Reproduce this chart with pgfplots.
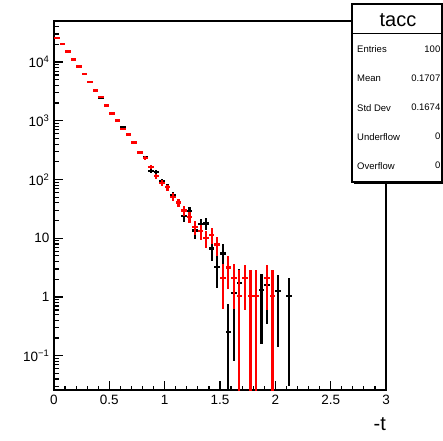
\documentclass[border=0pt]{standalone}
\usepackage{fontspec}
\setmainfont{Liberation Sans}
\usepackage{pgfplots}
\pgfplotsset{compat=1.18}
\usepackage{pgfplotstable}

\pgfplotstableread{
x y ep em
0.025 25700 160 160
0.075 20090 142 142
0.125 15100 123 123
0.175 11040 105 105
0.225 8380 92 92
0.275 6200 79 79
0.325 4530 67 67
0.375 3275 57 57
0.425 2470 50 50
0.475 1770 42 42
0.525 1331 36 36
0.575 1012 32 32
0.625 787 28 28
0.675 585 24 24
0.725 428 21 21
0.775 292 17 17
0.825 238 15.4 15.4
0.875 141 11.9 11.9
0.925 135 11.6 11.6
0.975 93.9 9.7 9.7
1.025 74.3 8.6 8.6
1.075 53.2 7.3 7.3
1.125 40.8 6.4 6.4
1.175 23.6 4.9 4.9
1.225 29.0 5.4 5.4
1.275 13.5 3.7 3.7
1.325 17.4 4.2 4.2
1.375 17.8 4.2 4.2
1.425 6.68 2.58 2.58
1.475 3.24 1.80 1.80
1.525 5.49 2.34 2.34
1.575 0.254 0.504 0.253
1.625 1.15 1.07 1.07
1.675 1.71 1.31 1.31
1.875 1.30 1.14 1.14
1.925 1.60 1.26 1.26
2.025 1.26 1.12 1.12
2.125 1.05 1.02 1.02
}\blackdata

\pgfplotstableread{
x y ep em
0.025 25700 164 164
0.075 20090 145 145
0.125 15100 125 125
0.175 11040 107 107
0.225 8380 93 93
0.275 6200 80 80
0.325 4530 69 69
0.375 3275 58 58
0.425 2520 51 51
0.475 1820 44 44
0.525 1331 37 37
0.575 1012 32 32
0.625 728 27.5 27.5
0.675 585 24.7 24.7
0.725 428 21.1 21.1
0.775 289 17.3 17.3
0.825 234 15.6 15.6
0.875 161 12.9 12.9
0.925 114 10.9 10.9
0.975 87.9 9.6 9.6
1.025 73.4 8.7 8.7
1.075 50.8 7.3 7.3
1.125 40.5 6.5 6.5
1.175 29.6 5.5 5.5
1.225 22.9 4.9 4.9
1.275 15.3 4.0 4.0
1.325 13.1 3.7 3.7
1.375 10.1 3.2 3.2
1.425 11.3 3.4 3.4
1.475 7.81 2.85 2.85
1.525 2.10 1.48 1.48
1.575 3.17 1.82 1.82
1.625 2.10 1.48 1.48
1.675 1.05 1.8 1.049
1.725 2.08 1.47 1.47
1.775 1.05 1.8 1.049
1.825 1.05 1.8 1.049
1.925 2.08 1.47 1.47
1.975 1.05 1.8 1.049
}\reddata

\begin{document}
\begin{tikzpicture}[x=1pt,y=1pt]
\begin{axis}[
  at={(54pt,50pt)}, anchor=south west,
  scale only axis, width=332pt, height=369pt,
  xmin=0, xmax=3, ymode=log, ymin=0.026, ymax=50000,
  axis line style={line width=1.6pt},
  tick align=inside, tick pos=left,
  major tick length=9pt, minor tick length=4.5pt,
  every tick/.style={line width=1.2pt, black},
  xtick={0,0.5,1,1.5,2,2.5,3},
  xticklabels={0,0.5,1,1.5,2,2.5,3},
  minor x tick num=4,
  ytick={0.1,1,10,100,1000,10000},
  yticklabels={10\textsuperscript{−1},1,10,10\textsuperscript{2},10\textsuperscript{3},10\textsuperscript{4}},
  minor ytick={0.03,0.04,0.05,0.06,0.07,0.08,0.09,0.2,0.3,0.4,0.5,0.6,0.7,0.8,0.9,2,3,4,5,6,7,8,9,20,30,40,50,60,70,80,90,200,300,400,500,600,700,800,900,2000,3000,4000,5000,6000,7000,8000,9000,20000,30000,40000},
  xticklabel style={font=\fontsize{13.5}{14}\selectfont, yshift=-2pt},
  yticklabel style={font=\fontsize{13.5}{14}\selectfont, xshift=-1pt},
  every error bar/.append style={line width=2.2pt},
]
\addplot[black, line width=2.2pt, draw=none, mark=none,
  error bars/.cd, x dir=both, x fixed=0.025, y dir=both, y explicit,
  error mark=none, error bar style={draw=black, line width=2.2pt, solid}]
  table[x=x, y=y, y error plus=ep, y error minus=em]{\blackdata};
\addplot[red, line width=2.2pt, draw=none, mark=none,
  error bars/.cd, x dir=both, x fixed=0.025, y dir=both, y explicit,
  error mark=none, error bar style={draw=red, line width=2.2pt, solid}]
  table[x=x, y=y, y error plus=ep, y error minus=em]{\reddata};
\end{axis}
% x axis label
\node[anchor=base east, inner sep=0pt, font=\fontsize{20}{20}\selectfont] at (386pt,10pt) {-t};
% stats box
\fill[black] (354pt,256pt) rectangle (443pt,434pt);
\draw[line width=1.2pt, fill=white] (352pt,258pt) rectangle (442pt,436pt);
\draw[line width=1.2pt] (352pt,406.7pt) -- (442pt,406.7pt);
\node[font=\fontsize{20}{20}\selectfont, inner sep=0pt] at (398pt,420pt) {tacc};
\begin{scope}[every node/.style={font=\fontsize{9.5}{10}\selectfont, inner sep=0pt}]
\node[anchor=west] at (357pt,390.7pt) {Entries};
\node[anchor=east] at (440.5pt,390.7pt) {100};
\node[anchor=west] at (357pt,362pt) {Mean};
\node[anchor=east] at (440.5pt,362pt) {0.1707};
\node[anchor=west] at (357pt,332.3pt) {Std Dev};
\node[anchor=east] at (440.5pt,332.3pt) {0.1674};
\node[anchor=west] at (357pt,303.3pt) {Underflow};
\node[anchor=east] at (440.5pt,303.3pt) {0};
\node[anchor=west] at (357pt,274.3pt) {Overflow};
\node[anchor=east] at (440.5pt,274.3pt) {0};
\end{scope}
\pgfresetboundingbox
\path[use as bounding box] (0,0) rectangle (443pt,440pt);
\end{tikzpicture}
\end{document}
